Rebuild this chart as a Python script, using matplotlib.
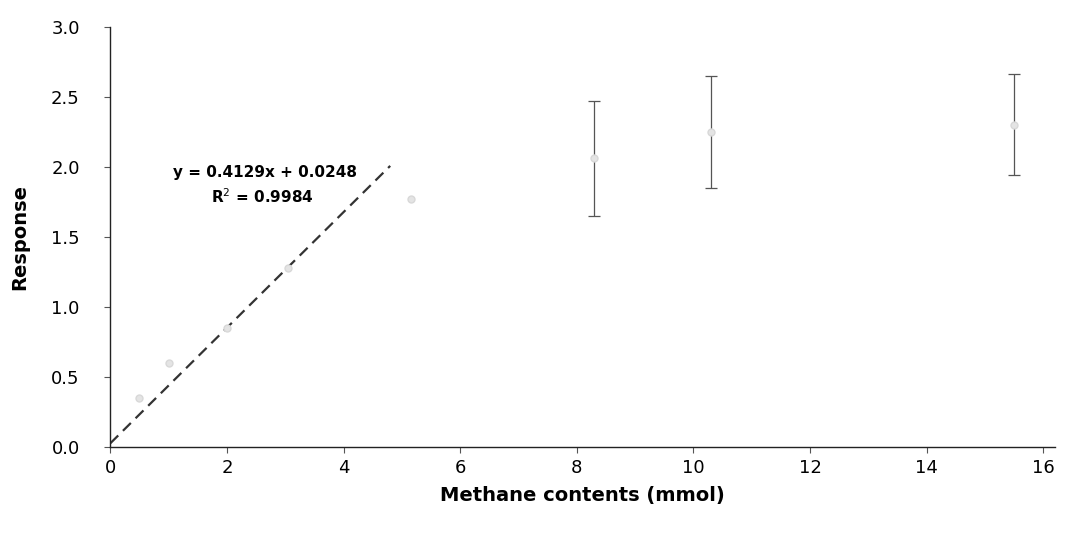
import numpy as np
import matplotlib.pyplot as plt

# methane calibration: response vs methane amount
methane = [0.5, 1.0, 2.0, 3.05, 5.15, 8.3, 10.3, 15.5]
response = [0.35, 0.60, 0.85, 1.28, 1.77, 2.06, 2.25, 2.30]
resp_err = [0.0, 0.0, 0.0, 0.0, 0.0, 0.41, 0.40, 0.36]

slope = 0.4129
intercept = 0.0248
fit_end = 4.8

x_ticks = [0, 2, 4, 6, 8, 10, 12, 14, 16]
y_ticks = [0.0, 0.5, 1.0, 1.5, 2.0, 2.5, 3.0]

fig = plt.figure(figsize=(10.71, 5.37), dpi=100)
ax = fig.add_axes([0.103, 0.168, 0.882, 0.782])

mx = np.array(methane)
my = np.array(response)
me = np.array(resp_err)
has_err = me > 0

ax.plot(mx, my, 'o', ms=5, color='#e4e4e4', mec='#d8d8d8', zorder=3)
ax.errorbar(mx[has_err], my[has_err], yerr=me[has_err], fmt='none',
            ecolor='#555555', elinewidth=0.9, capsize=4, capthick=0.9, zorder=2)

xf = np.array([0, fit_end])
ax.plot(xf, slope * xf + intercept, ls=(0, (5, 3)), color='#333333', lw=1.6)

ax.text(2.66, 1.96, 'y = %.4fx + %.4f' % (slope, intercept), ha='center', va='center',
        fontsize=11, fontweight='bold')
ax.text(2.6, 1.79, 'R$^2$ = 0.9984', ha='center', va='center',
        fontsize=11, fontweight='bold')

ax.set_xlim(0, 16.2)
ax.set_ylim(0, 3.0)
ax.set_xticks(x_ticks)
ax.set_yticks(y_ticks)
ax.set_yticklabels(['%.1f' % v for v in y_ticks])
ax.tick_params(axis='both', labelsize=13, length=4, width=0.8, color='#555555')
ax.tick_params(axis='y', pad=18)
ax.tick_params(axis='x', pad=5)

for s in ['top', 'right']:
    ax.spines[s].set_visible(False)
for s in ['left', 'bottom']:
    ax.spines[s].set_linewidth(1.0)
    ax.spines[s].set_color('#222222')

ax.set_xlabel('Methane contents (mmol)', fontsize=14, fontweight='bold', labelpad=6)
ax.set_ylabel('Response', fontsize=14, fontweight='bold', labelpad=16)

fig.savefig('out.png', dpi=100)
